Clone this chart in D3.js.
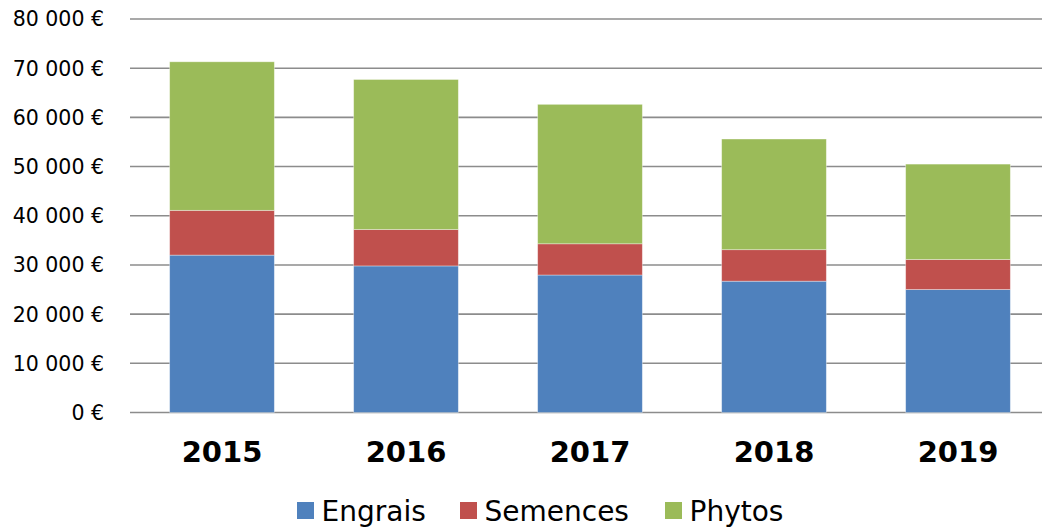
<!DOCTYPE html>
<html>
<head>
<meta charset="utf-8">
<script src="https://cdn.jsdelivr.net/npm/d3@7"></script>
<style>
  body { margin: 0; background: #fff; }
  svg { display: block; font-family: "DejaVu Sans", Verdana, sans-serif; }
</style>
</head>
<body>
<div id="chart"></div>
<script>
var years = ["2015", "2016", "2017", "2018", "2019"];
var engrais = [32000, 29800, 27950, 26700, 25000];
var semences = [9100, 7400, 6350, 6400, 6100];
var phytos = [30200, 30500, 28350, 22500, 19400];
var seriesNames = ["Engrais", "Semences", "Phytos"];
var seriesColors = ["#4f81bd", "#c0504d", "#9bbb59"];
var yTicks = [0, 10000, 20000, 30000, 40000, 50000, 60000, 70000, 80000];

var width = 1042,
    height = 532,
    margin = {top: 19, right: -8, bottom: 120, left: 130};

var rows = years.map(function(y, i) {
  return {year: y, Engrais: engrais[i], Semences: semences[i], Phytos: phytos[i]};
});

var stacked = d3.stack().keys(seriesNames)(rows);

var svg = d3.select("#chart").append("svg")
  .attr("width", width)
  .attr("height", height);

var x = d3.scaleBand()
  .domain(years)
  .range([margin.left, width - margin.right])
  .paddingInner(0.431)
  .paddingOuter(0.2155);

var y = d3.scaleLinear()
  .domain([0, 80000])
  .range([412.5, margin.top]);

function fmt(v) {
  return d3.format(",")(v).replace(/,/g, " ") + " €";
}

// grid lines
svg.append("g")
  .selectAll("line")
  .data(yTicks)
  .join("line")
    .attr("x1", margin.left)
    .attr("x2", width)
    .attr("y1", function(d) { return y(d); })
    .attr("y2", function(d) { return y(d); })
    .attr("stroke", "#8c8c8c")
    .attr("stroke-width", 1.6);

// y labels
svg.append("g")
  .selectAll("text")
  .data(yTicks)
  .join("text")
    .attr("x", 104)
    .attr("y", function(d) { return y(d); })
    .attr("dy", "0.36em")
    .attr("text-anchor", "end")
    .attr("font-size", "20.5px")
    .attr("fill", "#000")
    .text(fmt);

// bars
svg.append("g")
  .selectAll("g")
  .data(stacked)
  .join("g")
    .attr("fill", function(d, i) { return seriesColors[i]; })
  .selectAll("rect")
  .data(function(d) { return d; })
  .join("rect")
    .attr("x", function(d) { return x(d.data.year); })
    .attr("width", x.bandwidth())
    .attr("y", function(d) { return y(d[1]); })
    .attr("height", function(d) { return y(d[0]) - y(d[1]); })
    .attr("stroke", "rgba(255,255,255,0.45)")
    .attr("stroke-width", 0.8);

// x labels
svg.append("g")
  .selectAll("text")
  .data(years)
  .join("text")
    .attr("x", function(d) { return x(d) + x.bandwidth() / 2; })
    .attr("y", 462)
    .attr("text-anchor", "middle")
    .attr("font-size", "29px")
    .attr("font-weight", "bold")
    .attr("fill", "#000")
    .text(function(d) { return d; });

// legend
var legendX = [297, 460, 665];
var legend = svg.append("g")
  .selectAll("g")
  .data(seriesNames)
  .join("g")
    .attr("transform", function(d, i) { return "translate(" + legendX[i] + ",502)"; });

legend.append("rect")
  .attr("width", 17)
  .attr("height", 17)
  .attr("fill", function(d, i) { return seriesColors[i]; });

legend.append("text")
  .attr("x", 24.5)
  .attr("y", 19)
  .attr("font-size", "28px")
  .attr("fill", "#000")
  .text(function(d) { return d; });
</script>
</body>
</html>
